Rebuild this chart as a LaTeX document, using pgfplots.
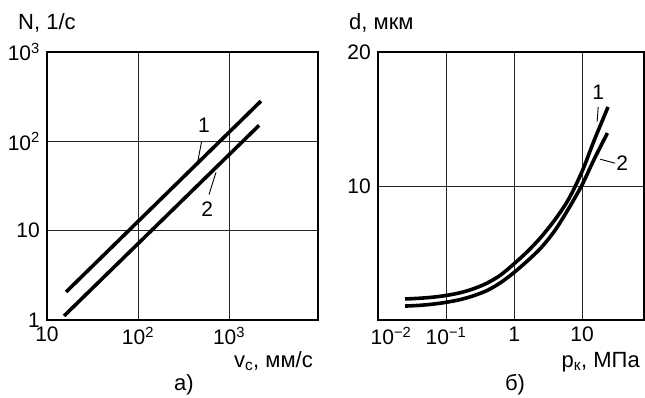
\documentclass[border=0pt]{standalone}
\usepackage{fontspec}
\setmainfont{Liberation Sans}
\usepackage{pgfplots}
\pgfplotsset{compat=1.18}
\begin{document}
\fontsize{21}{25}\selectfont
\begin{tikzpicture}[x=1pt,y=1pt]
\useasboundingbox (0pt,0pt) rectangle (645pt,397pt);
\pgfplotsset{
  every axis/.append style={
    scale only axis,
    grid=major,
    major grid style={black!85, line width=0.8pt},
    axis line style={line width=1.3pt},
    tick style={draw=none},
    minor xtick={}, minor ytick={},
    ticklabel style={font=\fontsize{21}{25}\selectfont},
    clip=false,
  },
  curve/.style={black, line width=3.6pt, no marks},
}
\begin{axis}[at={(47pt,77pt)}, anchor=south west, width=271pt, height=268pt,
  xmode=log, ymode=log, xmin=10, xmax=9500, ymin=1, ymax=1000,
  xtick={10,100,1000}, xticklabels={10,10\textsuperscript{2},10\textsuperscript{3}},
  ytick={1,10,100,1000}, yticklabels={1,10,10\textsuperscript{2},10\textsuperscript{3}},
]
\addplot[curve] coordinates {(16.2,2.06) (2240,282)};
\addplot[curve] coordinates {(15.4,1.11) (2140,151)};
\draw[line width=0.9pt] (axis cs:500,100) -- (axis cs:454,59.6);
\node[anchor=south] at (axis cs:530,103) {1};
\draw[line width=0.9pt] (axis cs:719,44.9) -- (axis cs:603,25.4);
\node at (axis cs:575,17.2) {2};
\end{axis}
\begin{axis}[at={(378pt,77pt)}, anchor=south west, width=266pt, height=268pt,
  xmode=log, xmin=0.01, xmax=81, ymin=0, ymax=20,
  xtick={0.01,0.1,1,10}, xticklabels={\hspace{26pt}10\textsuperscript{−2},10\textsuperscript{−1},1,10},
  ytick={10,20}, yticklabels={10,20},
]
\addplot[curve, smooth] coordinates {
(0.025,1.57) (0.04,1.62) (0.063,1.70) (0.1,1.83) (0.16,2.03) (0.25,2.32)
(0.4,2.75) (0.63,3.35) (1,4.2) (1.6,5.15) (2.5,6.2) (4,7.5) (6.3,9.0)
(10,11.1) (15,13.4) (24,15.9)};
\addplot[curve, smooth] coordinates {
(0.025,1.04) (0.04,1.09) (0.063,1.18) (0.1,1.32) (0.16,1.52) (0.25,1.8)
(0.4,2.2) (0.63,2.78) (1,3.55) (1.6,4.45) (2.5,5.4) (4,6.7) (6.3,8.3)
(10,10.1) (15,12.0) (23.5,13.95)};
\draw[line width=0.9pt] (axis cs:17.2,15.9) -- (axis cs:16.6,14.8);
\node[anchor=south] at (axis cs:17.2,15.9) {1};
\draw[line width=0.9pt] (axis cs:18.4,12.0) -- (axis cs:30.5,11.7);
\node at (axis cs:38.7,11.7) {2};
\end{axis}
\begin{scope}[every node/.style={inner sep=0pt, font=\fontsize{22}{26}\selectfont}]
\node[anchor=base west] at (18pt,367pt) {N, 1/с};
\node[anchor=base west] at (349pt,367pt) {d, мкм};
\node[anchor=base east] at (313pt,30pt) {v\textsubscript{с}, мм/с};
\node[anchor=base east] at (640pt,30pt) {p\textsubscript{к}, МПа};
\node[anchor=base] at (184pt,7pt) {а)};
\node[anchor=base] at (515pt,7pt) {б)};
\end{scope}
\end{tikzpicture}
\end{document}
